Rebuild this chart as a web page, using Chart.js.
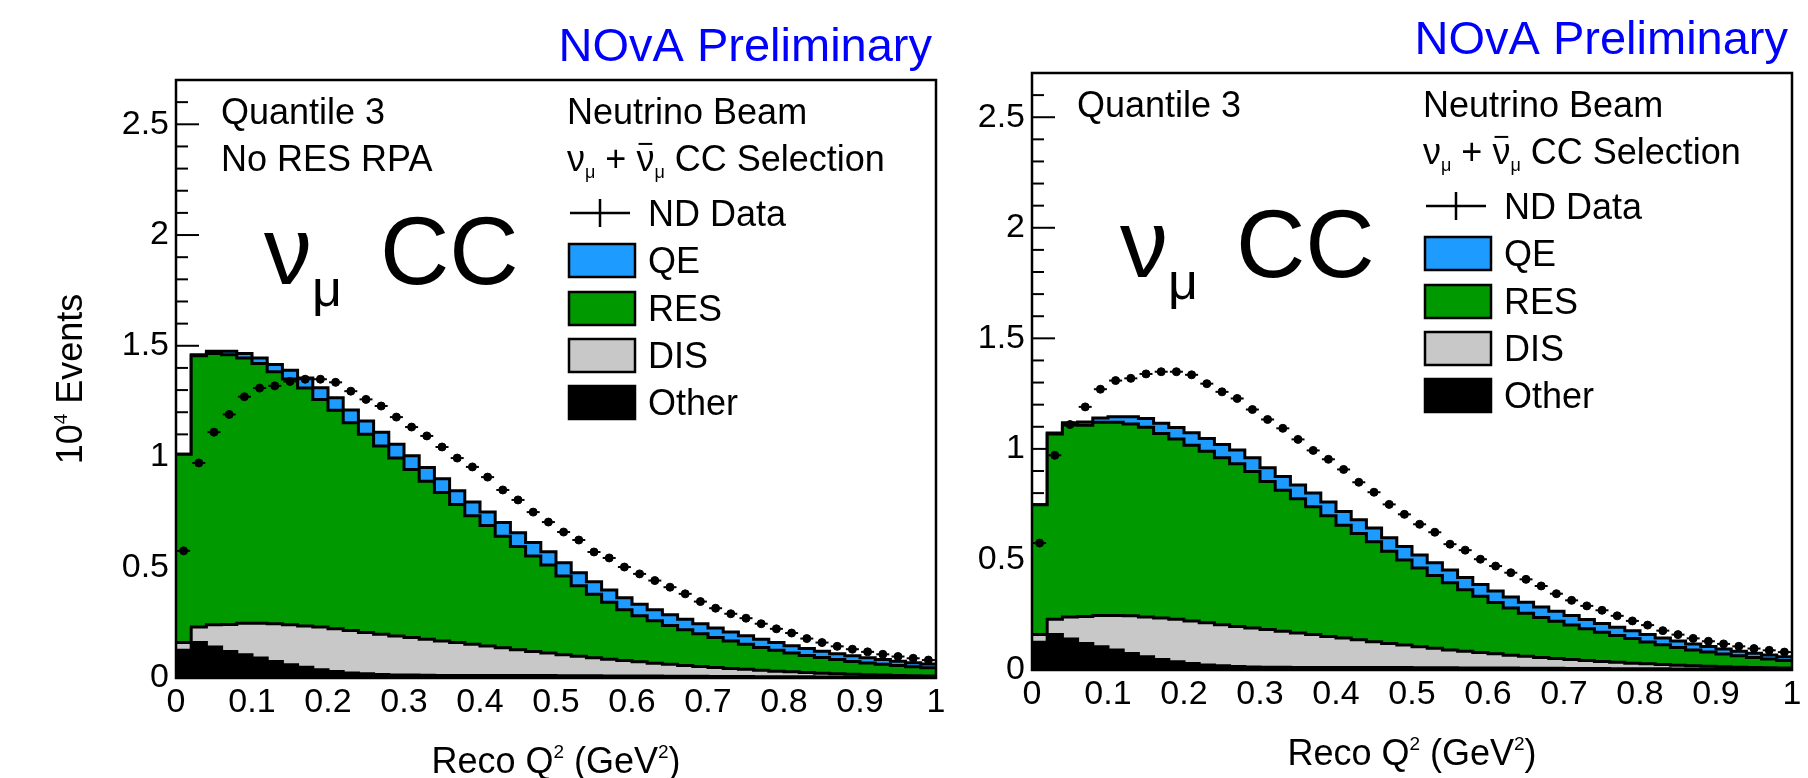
<!DOCTYPE html>
<html>
<head>
<meta charset="utf-8">
<title>NOvA ND Reco Q2, quantile 3</title>
<script src="https://cdn.jsdelivr.net/npm/chart.js@4.4.1/dist/chart.umd.min.js"></script>
<style>
  html, body { margin: 0; padding: 0; background: #fff; }
  #wrap { position: relative; width: 1808px; height: 778px; overflow: hidden; }
  canvas { position: absolute; top: 0; }
  #left-plot { left: 0; }
  #right-plot { left: 960px; }
</style>
</head>
<body>
<div id="wrap">
  <canvas id="left-plot" width="960" height="778"></canvas>
  <canvas id="right-plot" width="848" height="778"></canvas>
</div>
<script>
const FONT = '"Liberation Sans", Arial, Helvetica, sans-serif';

// Reco Q^2 binning (GeV^2), 50 bins
const binEdges = [
  0, 0.02, 0.04, 0.06, 0.08, 0.1, 0.12, 0.14, 0.16, 0.18,
  0.2, 0.22, 0.24, 0.26, 0.28, 0.3, 0.32, 0.34, 0.36, 0.38,
  0.4, 0.42, 0.44, 0.46, 0.48, 0.5, 0.52, 0.54, 0.56, 0.58,
  0.6, 0.62, 0.64, 0.66, 0.68, 0.7, 0.72, 0.74, 0.76, 0.78,
  0.8, 0.82, 0.84, 0.86, 0.88, 0.9, 0.92, 0.94, 0.96, 0.98, 1
];

// axis ticks
const xTickValues = [0, 0.1, 0.2, 0.3, 0.4, 0.5, 0.6, 0.7, 0.8, 0.9, 1];
const yTickValues = [0, 0.5, 1, 1.5, 2, 2.5];

// events per bin, in units of 10^4
const ndData = [
  0.574, 0.971, 1.11, 1.19, 1.27, 1.309, 1.319, 1.339, 1.349, 1.349,
  1.335, 1.295, 1.258, 1.228, 1.178, 1.133, 1.093, 1.043, 0.993, 0.953,
  0.907, 0.849, 0.804, 0.749, 0.704, 0.659, 0.623, 0.569, 0.542, 0.501,
  0.47, 0.44, 0.41, 0.38, 0.345, 0.315, 0.29, 0.27, 0.245, 0.222,
  0.203, 0.178, 0.16, 0.143, 0.13, 0.118, 0.107, 0.097, 0.089, 0.081
];

const qeEvents = [
  0, 0.005, 0.01, 0.015, 0.02, 0.025, 0.032, 0.04, 0.046, 0.052,
  0.056, 0.058, 0.06, 0.062, 0.062, 0.062, 0.062, 0.062, 0.062, 0.062,
  0.062, 0.062, 0.062, 0.061, 0.06, 0.059, 0.058, 0.057, 0.055, 0.054,
  0.052, 0.05, 0.049, 0.047, 0.045, 0.043, 0.041, 0.039, 0.037, 0.035,
  0.033, 0.031, 0.029, 0.027, 0.025, 0.023, 0.021, 0.02, 0.018, 0.017
];

// RES without the RPA suppression (left) and with it (right)
const resNoRpa = [
  0.85, 1.225, 1.225, 1.218, 1.198, 1.173, 1.138, 1.11, 1.074, 1.028,
  0.987, 0.938, 0.895, 0.851, 0.803, 0.758, 0.713, 0.671, 0.623, 0.581,
  0.543, 0.503, 0.466, 0.431, 0.397, 0.356, 0.319, 0.287, 0.257, 0.229,
  0.208, 0.191, 0.175, 0.161, 0.148, 0.136, 0.124, 0.113, 0.103, 0.094,
  0.085, 0.077, 0.07, 0.064, 0.058, 0.053, 0.049, 0.045, 0.041, 0.037
];

const resWithRpa = [
  0.587, 0.837, 0.868, 0.865, 0.873, 0.873, 0.868, 0.858, 0.835, 0.815,
  0.795, 0.775, 0.755, 0.736, 0.708, 0.67, 0.638, 0.608, 0.578, 0.546,
  0.51, 0.48, 0.452, 0.417, 0.385, 0.356, 0.329, 0.304, 0.278, 0.254,
  0.232, 0.213, 0.195, 0.181, 0.169, 0.157, 0.144, 0.132, 0.121, 0.111,
  0.099, 0.089, 0.08, 0.072, 0.064, 0.057, 0.051, 0.045, 0.04, 0.034
];

const disEvents = [
  0.035, 0.07, 0.1, 0.122, 0.142, 0.157, 0.17, 0.18, 0.187, 0.193,
  0.193, 0.191, 0.186, 0.181, 0.176, 0.17, 0.163, 0.156, 0.149, 0.141,
  0.134, 0.126, 0.117, 0.109, 0.102, 0.095, 0.088, 0.081, 0.076, 0.07,
  0.064, 0.058, 0.054, 0.049, 0.044, 0.04, 0.036, 0.032, 0.029, 0.025,
  0.022, 0.019, 0.017, 0.014, 0.012, 0.01, 0.009, 0.007, 0.006, 0.005
];

const otherEvents = [
  0.125, 0.16, 0.14, 0.12, 0.105, 0.09, 0.075, 0.06, 0.048, 0.037,
  0.029, 0.023, 0.019, 0.016, 0.014, 0.013, 0.012, 0.011, 0.011, 0.011,
  0.011, 0.011, 0.011, 0.011, 0.011, 0.01, 0.01, 0.01, 0.009, 0.009,
  0.009, 0.009, 0.008, 0.008, 0.008, 0.007, 0.007, 0.007, 0.006, 0.006,
  0.006, 0.006, 0.005, 0.005, 0.005, 0.005, 0.004, 0.004, 0.004, 0.004
];

const colors = { QE: '#1e9bff', RES: '#009900', DIS: '#c8c8c8', Other: '#000000' };

// histogram outline: one point per low edge, plus the last upper edge
function histPoints(values) {
  const pts = values.map((v, i) => ({ x: binEdges[i], y: v }));
  pts.push({ x: binEdges[values.length], y: values[values.length - 1] });
  return pts;
}

function stackUp(layers) {
  return layers[0].map((_, i) => layers.reduce((s, l) => s + l[i], 0));
}

function buildDatasets(res) {
  const tops = {
    Other: otherEvents,
    DIS: stackUp([otherEvents, disEvents]),
    RES: stackUp([otherEvents, disEvents, res]),
    QE: stackUp([otherEvents, disEvents, res, qeEvents])
  };
  const step = (label, order) => ({
    label: label,
    data: histPoints(tops[label]),
    stepped: true,
    fill: 'origin',
    backgroundColor: colors[label],
    borderColor: '#000',
    borderWidth: 3,
    pointRadius: 0,
    order: order
  });
  const centers = ndData.map((v, i) => ({ x: (binEdges[i] + binEdges[i + 1]) / 2, y: v }));
  return [
    { label: 'ND Data', data: centers, showLine: false, pointStyle: 'circle', pointRadius: 4,
      backgroundColor: '#000', borderColor: '#000', borderWidth: 1, order: 0 },
    { label: 'ND Data err', data: centers, showLine: false, pointStyle: 'line', pointRadius: 6.5,
      borderColor: '#000', borderWidth: 2, order: 0 },
    step('Other', 1),
    step('DIS', 2),
    step('RES', 3),
    step('QE', 4)
  ];
}

// text made of pieces with sub/superscripts
function piecesWidth(ctx, pieces) {
  let w = 0;
  pieces.forEach(p => { ctx.font = p.size + 'px ' + FONT; w += ctx.measureText(p.text).width; });
  return w;
}
function drawPieces(ctx, x, y, pieces) {
  pieces.forEach(p => {
    ctx.font = p.size + 'px ' + FONT;
    const w = ctx.measureText(p.text).width;
    ctx.fillText(p.text, x, y + (p.dy || 0));
    if (p.bar) ctx.fillRect(x + w * 0.12, y - p.size * 0.78, w * 0.76, 2);
    x += w;
  });
  return x;
}

const rootStyle = {
  id: 'rootStyle',
  beforeDatasetsDraw(chart) {
    const ctx = chart.ctx, a = chart.chartArea, y = chart.scales.y;
    ctx.save();
    ctx.strokeStyle = '#000';
    ctx.lineWidth = 2;
    for (let i = 1; i <= 26; i++) {
      const py = y.getPixelForValue(i / 10);
      const len = i % 5 === 0 ? 23 : 12;
      ctx.beginPath();
      ctx.moveTo(a.left, py);
      ctx.lineTo(a.left + len, py);
      ctx.stroke();
    }
    ctx.restore();
  },
  afterDraw(chart, args, opts) {
    const ctx = chart.ctx, a = chart.chartArea;
    ctx.save();
    ctx.strokeStyle = '#000';
    ctx.lineWidth = 2.5;
    ctx.strokeRect(a.left, a.top, a.right - a.left, a.bottom - a.top);

    ctx.textBaseline = 'alphabetic';
    ctx.textAlign = 'left';

    // header
    ctx.fillStyle = '#0000ff';
    const head = [{ text: 'NOvA Preliminary', size: 47 }];
    drawPieces(ctx, a.right - 4 - piecesWidth(ctx, head), a.top - 19, head);

    ctx.fillStyle = '#000';
    drawPieces(ctx, a.left + 45, a.top + 44, [{ text: 'Quantile 3', size: 36 }]);
    if (opts.extraLine) drawPieces(ctx, a.left + 45, a.top + 91, [{ text: opts.extraLine, size: 36 }]);
    drawPieces(ctx, a.left + 391, a.top + 44, [{ text: 'Neutrino Beam', size: 36 }]);
    drawPieces(ctx, a.left + 391, a.top + 91, [
      { text: 'ν', size: 36 }, { text: 'μ', size: 18, dy: 7 },
      { text: ' + ', size: 36 },
      { text: 'ν', size: 36, bar: true }, { text: 'μ', size: 18, dy: 7 },
      { text: ' CC Selection', size: 36 }
    ]);

    // big channel label
    drawPieces(ctx, a.left + 88, a.top + 204, [{ text: 'ν', size: 96 }, { text: 'μ', size: 52, dy: 22 }]);
    drawPieces(ctx, a.left + 204, a.top + 204, [{ text: 'CC', size: 96 }]);

    // legend
    const rows = [133, 180, 228, 275, 322];
    const entries = ['ND Data', 'QE', 'RES', 'DIS', 'Other'];
    entries.forEach((name, k) => {
      const cy = a.top + rows[k];
      const ds = chart.data.datasets.find(d => d.label === name);
      if (name === 'ND Data') {
        ctx.lineWidth = 2.5;
        ctx.beginPath();
        ctx.moveTo(a.left + 394, cy); ctx.lineTo(a.left + 454, cy);
        ctx.moveTo(a.left + 424, cy - 14); ctx.lineTo(a.left + 424, cy + 14);
        ctx.stroke();
      } else {
        ctx.fillStyle = ds.backgroundColor;
        ctx.fillRect(a.left + 393, cy - 16, 66, 33);
        ctx.lineWidth = 2.5;
        ctx.strokeRect(a.left + 393, cy - 16, 66, 33);
      }
      ctx.fillStyle = '#000';
      drawPieces(ctx, a.left + 472, cy + 13, [{ text: ds.label, size: 36 }]);
    });

    // axis titles
    const xt = [
      { text: 'Reco Q', size: 36 }, { text: '2', size: 19, dy: -15 },
      { text: ' (GeV', size: 36 }, { text: '2', size: 19, dy: -15 }, { text: ')', size: 36 }
    ];
    drawPieces(ctx, (a.left + a.right) / 2 - piecesWidth(ctx, xt) / 2, a.bottom + 95, xt);

    if (opts.yTitle) {
      const yt = [{ text: '10', size: 36 }, { text: '4', size: 19, dy: -15 }, { text: ' Events', size: 36 }];
      ctx.translate(a.left - 94, (a.top + a.bottom) / 2);
      ctx.rotate(-Math.PI / 2);
      drawPieces(ctx, -piecesWidth(ctx, yt) / 2, 0, yt);
    }
    ctx.restore();
  }
};

function makePanel(canvasId, res, geom, extraLine, yTitle) {
  return new Chart(document.getElementById(canvasId), {
    type: 'line',
    data: { datasets: buildDatasets(res) },
    plugins: [rootStyle],
    options: {
      responsive: false,
      animation: false,
      events: [],
      layout: { padding: { top: geom.top, right: geom.right, left: 0, bottom: 0 } },
      plugins: {
        legend: { display: false },
        tooltip: { enabled: false },
        rootStyle: { extraLine: extraLine, yTitle: yTitle }
      },
      scales: {
        x: {
          type: 'linear', min: 0, max: 1,
          grid: { display: false, drawTicks: false },
          border: { display: false },
          afterBuildTicks: s => { s.ticks = xTickValues.map(v => ({ value: v })); },
          afterFit: s => { s.height = geom.xHeight; },
          ticks: { autoSkip: false, maxRotation: 0, padding: 4, color: '#000',
                   font: { family: FONT, size: 34 }, callback: v => String(v) }
        },
        y: {
          type: 'linear', min: 0, max: 2.7,
          grid: { display: false, drawTicks: false },
          border: { display: false },
          afterBuildTicks: s => { s.ticks = yTickValues.map(v => ({ value: v })); },
          afterFit: s => { s.width = geom.yWidth; },
          ticks: { padding: 7, color: '#000', font: { family: FONT, size: 34 }, callback: v => String(v) }
        }
      }
    }
  });
}

makePanel('left-plot', resNoRpa, { top: 80, right: 24, xHeight: 100, yWidth: 176 }, 'No RES RPA', true);
makePanel('right-plot', resWithRpa, { top: 73, right: 16, xHeight: 108, yWidth: 72 }, null, false);
</script>
</body>
</html>
